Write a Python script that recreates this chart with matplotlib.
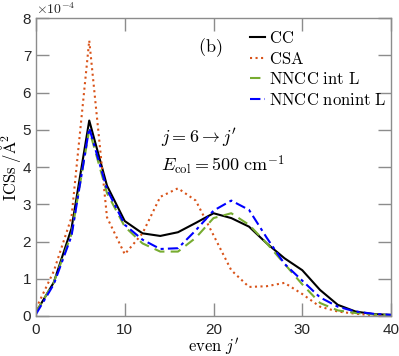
import matplotlib
matplotlib.use("Agg")
import matplotlib.pyplot as plt
import numpy as np

plt.rcParams['mathtext.fontset'] = 'cm'

# %% Données (ICS en unités de 1e-4 A^2)

j_even = np.arange(0, 42, 2)

cc = [0.10, 0.90, 2.35, 5.25, 3.50, 2.55, 2.22, 2.15, 2.25, 2.50, 2.76,
      2.63, 2.40, 1.95, 1.55, 1.23, 0.70, 0.30, 0.12, 0.05, 0.03]
csa = [0.20, 1.20, 2.65, 7.40, 2.65, 1.66, 2.22, 3.20, 3.43, 3.10, 2.17,
       1.23, 0.78, 0.80, 0.89, 0.59, 0.25, 0.12, 0.06, 0.02, 0.01]
nncc_int = [0.10, 0.90, 2.20, 5.00, 3.30, 2.40, 1.95, 1.73, 1.73, 2.10, 2.63,
            2.76, 2.45, 1.95, 1.40, 0.85, 0.35, 0.15, 0.08, 0.04, 0.02]
nncc_nonint = [0.05, 0.85, 2.15, 5.05, 3.40, 2.45, 2.05, 1.80, 1.82, 2.30, 2.83,
               3.10, 2.85, 2.10, 1.40, 0.95, 0.50, 0.25, 0.12, 0.06, 0.03]

labels = [r'$\mathrm{CC}$', r'$\mathrm{CSA}$', r'$\mathrm{NNCC\ int\ L}$',
          r'$\mathrm{NNCC\ nonint\ L}$']

# %% Tracé

fig = plt.figure(figsize=(3.99, 3.56), dpi=100)
ax = fig.add_axes([0.0902, 0.1124, 0.8898, 0.8366])

scale = 1e-4
ax.plot(j_even, np.array(cc) * scale, '-', color='black', lw=1.5, label=labels[0])
ax.plot(j_even, np.array(csa) * scale, ':', color='#D95319', lw=1.5, label=labels[1])
ax.plot(j_even, np.array(nncc_int) * scale, '--', color='#77AC30', lw=1.5,
        dashes=(5, 3), label=labels[2])
ax.plot(j_even, np.array(nncc_nonint) * scale, '-.', color='#0000FF', lw=1.5,
        dashes=(5, 2, 1.5, 2), label=labels[3])

ax.set_xlim(0, 40)
ax.set_ylim(0, 8e-4)
ax.set_xticks([0, 10, 20, 30, 40])
ax.set_yticks(np.arange(0, 9) * 1e-4)
ax.set_yticklabels([str(i) for i in range(9)])

for s in ax.spines.values():
    s.set_color('#8c8c8c')
    s.set_linewidth(1.0)
ax.tick_params(direction='in', length=9.5, width=1.0, color='#8c8c8c',
               top=True, right=True, labelsize=11, labelcolor='#262626')
ax.tick_params(axis='x', pad=5)
for t in ax.get_xticklabels() + ax.get_yticklabels():
    t.set_family('Liberation Sans')

ax.text(0.0, 1.005, r'$\times10^{-4}$', transform=ax.transAxes, fontsize=10,
        color='#262626', family='Liberation Sans', va='bottom', ha='left')

ax.set_xlabel(r'$\mathrm{even}\ j^{\prime}$', fontsize=12)
ax.xaxis.set_label_coords(0.5, -0.068)
ax.set_ylabel(r'$\mathrm{ICSs}\ /\mathrm{\AA}^2$', fontsize=12)
ax.yaxis.set_label_coords(-0.037, 0.5)

ax.text(18.2, 7.2e-4, r'$\mathrm{(b)}$', fontsize=13, va='center')
ax.text(14.1, 4.8e-4, r'$j=6\rightarrow j^{\prime}$', fontsize=13, va='center')
ax.text(14.1, 4.05e-4, r'$E_{\mathrm{col}}=500\ \mathrm{cm}^{-1}$', fontsize=13, va='center')

ax.legend(loc='upper left', bbox_to_anchor=(0.585, 0.985), frameon=False,
          handlelength=0.9, handletextpad=0.2, labelspacing=0.15,
          borderaxespad=0.0, fontsize=12)

fig.savefig('out.png', dpi=100)
